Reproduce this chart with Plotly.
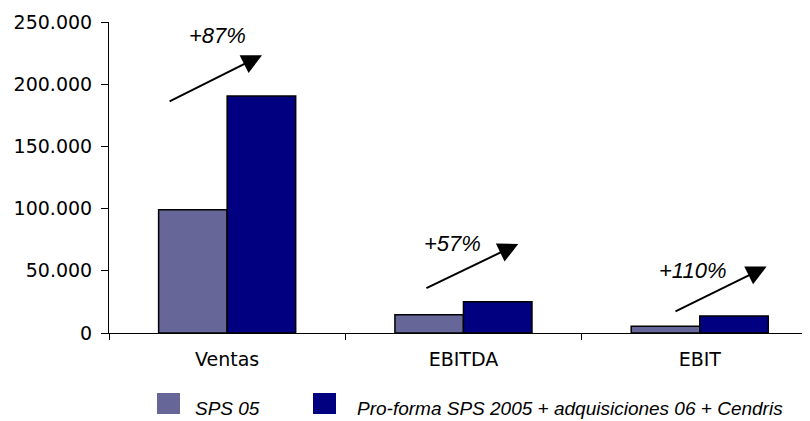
import plotly.graph_objects as go

# ---- data ----
categories = ["Ventas", "EBITDA", "EBIT"]
sps05 = [99000, 14600, 5500]
proforma = [190500, 25200, 13700]
series_names = ["SPS 05", "Pro-forma SPS 2005 + adquisiciones 06 + Cendris"]
y_tickvals = [0, 50000, 100000, 150000, 200000, 250000]
y_ticktext = ["0", "50.000", "100.000", "150.000", "200.000", "250.000"]
growth_labels = ["+87%", "+57%", "+110%"]
# growth annotation positions (category index, value)
label_pos = [(-0.04, 239000), (0.954, 71600), (1.969, 50000)]
arrow_tail = [(-0.25, 185600), (0.837, 35500), (1.891, 16800)]
arrow_tip = [(0.1475, 223300), (1.232, 71600), (2.283, 53400)]

colors = ["#666699", "#000080"]

# page has an 8px body margin; figure is sized/offset to compensate
OFF = 8
W, H = 802, 413
L, R, T, B = 101, 0, 14, 88
PW, PH = W - L - R, H - T - B


def px_x(p):
    return (p - OFF - L) / PW


def px_y(p):
    return (H - B - (p - OFF)) / PH


fig = go.Figure()
for name, vals, col in zip(series_names, [sps05, proforma], colors):
    fig.add_trace(go.Bar(
        x=categories, y=vals, name=name, showlegend=False,
        marker=dict(color=col, line=dict(color="black", width=1.5)),
    ))

annotations = []
for txt, (lx, ly), (tx, ty), (hx, hy) in zip(growth_labels, label_pos, arrow_tail, arrow_tip):
    annotations.append(dict(
        x=lx, y=ly, xref="x", yref="y", text=txt, showarrow=False,
        font=dict(family="Liberation Sans", size=22, style="italic", color="black"),
        xanchor="center", yanchor="middle",
    ))
    annotations.append(dict(
        x=hx, y=hy, ax=tx, ay=ty, xref="x", yref="y", axref="x", ayref="y",
        text="", showarrow=True, arrowhead=2, arrowsize=2, arrowwidth=2,
        arrowcolor="black", standoff=0, startstandoff=0,
    ))

# manual legend
shapes = []
legend_boxes = [(157, 180), (313, 336)]
legend_text_x = [193, 355]
for (x0, x1), col, tx, name in zip(legend_boxes, colors, legend_text_x, series_names):
    shapes.append(dict(
        type="rect", xref="paper", yref="paper",
        x0=px_x(x0), x1=px_x(x1), y0=px_y(414), y1=px_y(393),
        fillcolor=col, line=dict(width=0),
    ))
    annotations.append(dict(
        x=px_x(tx), y=px_y(408), xref="paper", yref="paper", text=name,
        showarrow=False, xanchor="left", yanchor="middle",
        font=dict(family="Liberation Sans", size=19, style="italic", color="black"),
    ))

fig.update_layout(
    width=W, height=H,
    margin=dict(l=L, r=R, t=T, b=B, pad=0),
    paper_bgcolor="white", plot_bgcolor="white",
    barmode="group", bargap=0.42, bargroupgap=0,
    showlegend=False,
    annotations=annotations, shapes=shapes,
    xaxis=dict(
        type="category", range=[-0.5, -0.5 + PW / 236.3],
        showline=True, linecolor="black", linewidth=1,
        ticks="outside", tickson="boundaries", ticklen=6, tickcolor="black",
        tickfont=dict(family="DejaVu Sans", size=19, color="black"),
        ticklabelstandoff=9,
        showgrid=False, zeroline=False,
    ),
    yaxis=dict(
        range=[0, 250000], tickvals=y_tickvals, ticktext=y_ticktext,
        showline=True, linecolor="black", linewidth=1,
        ticks="outside", ticklen=7, tickcolor="black",
        tickfont=dict(family="DejaVu Sans", size=19, color="black"),
        ticklabelstandoff=5,
        showgrid=False, zeroline=False,
    ),
)

fig.write_html("out.html")
